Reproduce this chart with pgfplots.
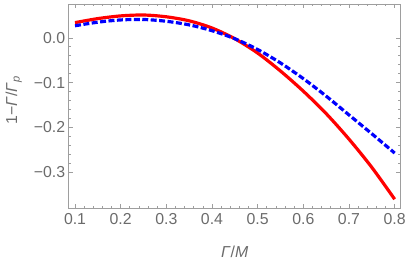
\documentclass[border=0pt]{standalone}
\usepackage{pgfplots}
\pgfplotsset{compat=1.18}
\usepackage{fontspec}
\setmainfont{Liberation Sans}
\setsansfont{Liberation Sans}
\definecolor{framegray}{gray}{0.62}
\definecolor{labelgray}{gray}{0.42}
\begin{document}
\begin{tikzpicture}
\begin{axis}[
  scale only axis, width=334bp, height=206bp,
  xmin=0.086, xmax=0.8135, ymin=-0.3815, ymax=0.0756,
  xtick={0.1,0.2,0.3,0.4,0.5,0.6,0.7,0.8},
  xticklabels={0.1,0.2,0.3,0.4,0.5,0.6,0.7,0.8},
  ytick={-0.3,-0.2,-0.1,0},
  yticklabels={−0.3,−0.2,−0.1,0.0},
  minor x tick num=4, minor y tick num=4,
  tick align=inside,
  major tick length=4.5bp, minor tick length=2.5bp,
  axis line style={framegray, line width=0.9bp},
  every tick/.style={framegray, line width=0.7bp},
  tick label style={font=\fontsize{16}{18}\selectfont, text=labelgray},
  xticklabel style={yshift=-1bp},
  every axis y label/.style={at={(axis description cs:-0.165,0.53)}, rotate=90, anchor=center},
  every axis x label/.style={at={(axis description cs:0.5,-0.21)}, anchor=center},
  ylabel={\fontsize{16}{18}\selectfont\color{labelgray}1−\textit{Γ}/\textit{Γ}\textsubscript{\textit{p}}},
  xlabel={\fontsize{16}{18}\selectfont\color{labelgray}\textit{Γ}/\textit{M}},
]
\addplot[red, line width=3.2bp, smooth] coordinates {
(0.10,0.034) (0.15,0.043) (0.20,0.049) (0.25,0.051) (0.30,0.047)
(0.35,0.038) (0.40,0.022) (0.45,-0.002) (0.50,-0.034) (0.55,-0.074)
(0.60,-0.119) (0.65,-0.169) (0.70,-0.226) (0.75,-0.289) (0.80,-0.360)
};
\addplot[blue, line width=3.2bp, smooth, dash pattern=on 6bp off 2.5bp] coordinates {
(0.10,0.027) (0.15,0.035) (0.20,0.040) (0.25,0.041) (0.30,0.037)
(0.35,0.029) (0.40,0.016) (0.45,-0.002) (0.50,-0.026) (0.55,-0.056)
(0.60,-0.091) (0.65,-0.130) (0.70,-0.172) (0.75,-0.214) (0.80,-0.257)
};
\end{axis}
\path[use as bounding box] ([xshift=-69bp,yshift=-50bp]current axis.south west) rectangle ([xshift=6bp,yshift=4bp]current axis.north east);
\end{tikzpicture}
\end{document}
